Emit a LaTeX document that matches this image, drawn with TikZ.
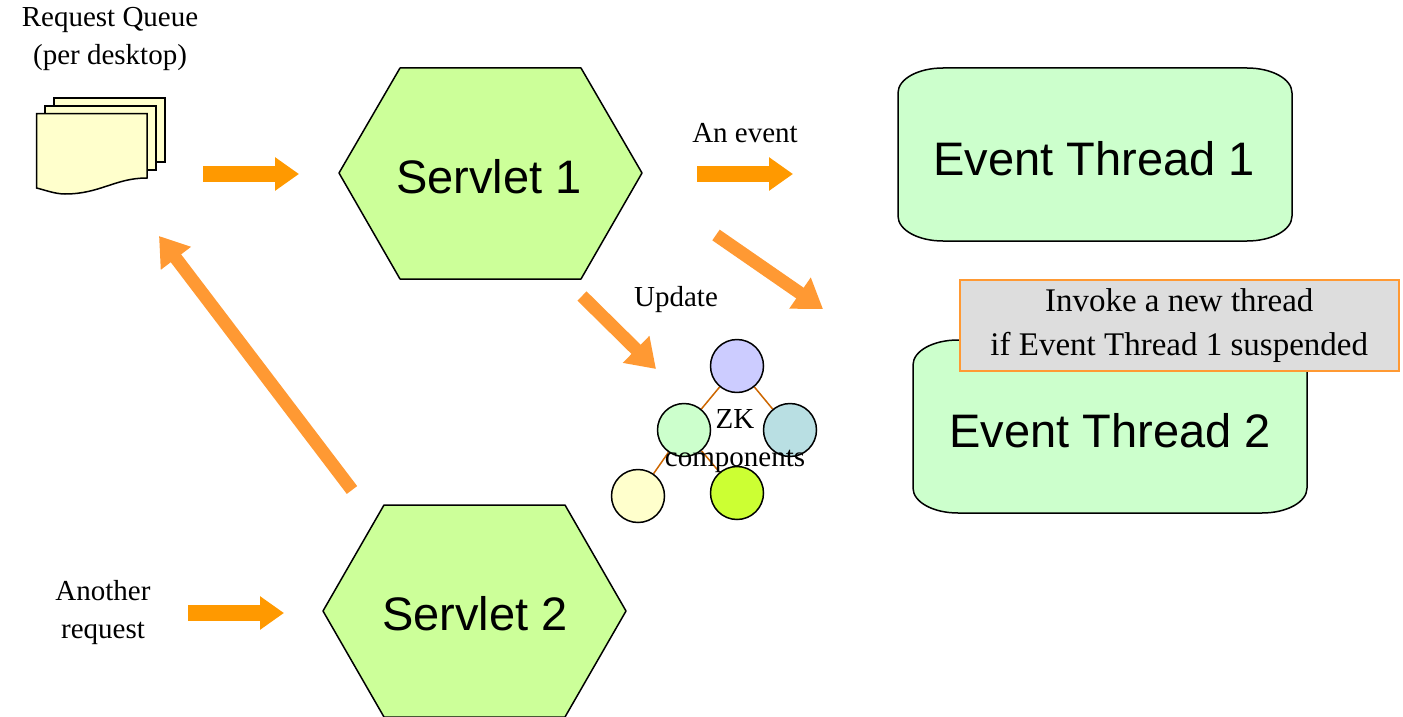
\documentclass[tikz,border=0pt]{standalone}
\usepackage{fontspec}
\setmainfont{Liberation Serif}
\newfontfamily\arialfont{Liberation Sans}
\usetikzlibrary{arrows.meta,backgrounds}
\definecolor{hexfill}{HTML}{CCFF99}
\definecolor{threadfill}{HTML}{CCFFCC}
\definecolor{docfill}{HTML}{FFFFCC}
\definecolor{orangeA}{HTML}{FF9900}
\definecolor{orangeB}{HTML}{FF9933}
\definecolor{edgecol}{HTML}{CC6600}
\definecolor{notefill}{HTML}{DDDDDD}
\tikzset{
  outline/.style={draw=black,line width=1.5pt,line join=round},
  hexshape/.style={outline,fill=hexfill},
  threadshape/.style={outline,fill=threadfill},
  docshape/.style={outline,fill=docfill,line join=miter},
  bigarrow/.style={draw=orangeA,line width=16pt,-{Triangle[length=24pt,width=32pt]}},
  slantarrow/.style={draw=orangeB,line width=13pt,-{Triangle[length=28pt,width=36pt]}},
  comp/.style={circle,outline,minimum size=53pt,inner sep=0pt},
  compedge/.style={draw=edgecol,line width=1.5pt},
  serif/.style={inner sep=0pt,anchor=base,align=center,font=\fontsize{29}{38}\selectfont},
  sans/.style={inner sep=0pt,anchor=base,font=\arialfont\fontsize{47}{56}\selectfont},
  note/.style={draw=orangeB,line width=1.5pt,fill=notefill,minimum width=439pt,minimum height=91pt,inner sep=0pt,anchor=north west}
}
\begin{document}
\begin{tikzpicture}[x=1pt,y=-1pt]
\useasboundingbox (0,0) rectangle (1403,717);
% documents
\draw[docshape] (54,98) rectangle (165,162);
\draw[docshape] (45,106) rectangle (156,170);
\draw[docshape] (36.5,113.5) -- (147,113.5) -- (147,178) .. controls (115,178) and (100,194) .. (65,194) .. controls (55,194) and (45,190) .. (36.5,188) -- cycle;
% hexagons
\draw[hexshape] (339,173) -- (400,68) -- (581,68) -- (642,173) -- (581,279) -- (400,279) -- cycle;
\draw[hexshape] (323,611) -- (384,505) -- (565,505) -- (626,611) -- (565,717) -- (384,717) -- cycle;
% threads
\draw[threadshape] (898,93) .. controls (898,79) and (918,68) .. (943,68) -- (1247,68) .. controls (1272,68) and (1292,79) .. (1292,93) -- (1292,216) .. controls (1292,230) and (1272,241) .. (1247,241) -- (943,241) .. controls (918,241) and (898,230) .. (898,216) -- cycle;
\draw[threadshape] (913,365) .. controls (913,351) and (933,340) .. (958,340) -- (1262,340) .. controls (1287,340) and (1307,351) .. (1307,365) -- (1307,488) .. controls (1307,502) and (1287,513) .. (1262,513) -- (958,513) .. controls (933,513) and (913,502) .. (913,488) -- cycle;
% sans labels
\node[sans] (s1) at (489,193) {Servlet 1};
\node[sans] (s2) at (475,630) {Servlet 2};
\node[sans] (t1) at (1094,175) {Event Thread 1};
\node[sans] (t2) at (1110,447) {Event Thread 2};
% note
\node[note,font=\fontsize{33}{44}\selectfont,align=center] (note) at (959,279) {Invoke a new thread\\if Event Thread 1 suspended};
% circles
\node[comp,fill=docfill] (cbl) at (638,496) {};
\node[comp,fill={rgb,255:red,204;green,255;blue,51}] (cbr) at (737,493) {};
\node[comp,fill=threadfill] (cl) at (684,430) {};
\node[comp,fill={rgb,255:red,185;green,223;blue,227}] (cr) at (790,430) {};
\node[comp,fill={rgb,255:red,204;green,204;blue,255}] (ct) at (737,366) {};
\begin{scope}[on background layer]
\draw[compedge] (ct) -- (cl);
\draw[compedge] (ct) -- (cr);
\draw[compedge] (cl) -- (cbl);
\draw[compedge] (cl) -- (cbr);
\end{scope}
% labels
\node[serif,anchor=north] (queue) at (110,7) {Request Queue\\(per desktop)};
\node[serif] (ev) at (745,142) {An event};
\node[serif] (upd) at (676,306) {Update};
\node[serif,anchor=north] (another) at (103,580) {Another\\request};
\node[serif,anchor=north] (zk) at (735,409) {ZK\\components};
% arrows
\coordinate (a1s) at (203,174); \coordinate (a1e) at (299,174);
\coordinate (a2s) at (697,174); \coordinate (a2e) at (793,174);
\coordinate (a3s) at (188,613); \coordinate (a3e) at (284,613);
\coordinate (a4s) at (716,235); \coordinate (a4e) at (823,309);
\coordinate (a5s) at (582,296); \coordinate (a5e) at (656,369);
\coordinate (a6s) at (352,490); \coordinate (a6e) at (159,236);
\draw[bigarrow] (a1s) -- (a1e);
\draw[bigarrow] (a2s) -- (a2e);
\draw[bigarrow] (a3s) -- (a3e);
\draw[slantarrow] (a4s) -- (a4e);
\draw[slantarrow] (a5s) -- (a5e);
\draw[slantarrow] (a6s) -- (a6e);
\end{tikzpicture}
\end{document}
